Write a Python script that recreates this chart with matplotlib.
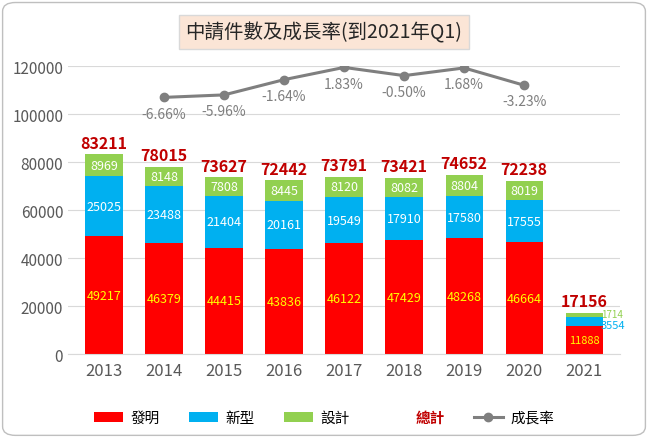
import matplotlib.pyplot as plt
from matplotlib.patches import FancyBboxPatch

plt.rcParams['font.family'] = ['Noto Sans CJK TC', 'DejaVu Sans']

years = ['2013', '2014', '2015', '2016', '2017', '2018', '2019', '2020', '2021']
invention = [49217, 46379, 44415, 43836, 46122, 47429, 48268, 46664, 11888]
utility = [25025, 23488, 21404, 20161, 19549, 17910, 17580, 17555, 3554]
design = [8969, 8148, 7808, 8445, 8120, 8082, 8804, 8019, 1714]
totals = [83211, 78015, 73627, 72442, 73791, 73421, 74652, 72238, 17156]
growth_years = ['2014', '2015', '2016', '2017', '2018', '2019', '2020']
growth = [-6.66, -5.96, -1.64, 1.83, -0.50, 1.68, -3.23]

RED = '#ff0000'
BLUE = '#00b0f0'
GREEN = '#92d050'
DARKRED = '#c00000'
GRAY = '#7f7f7f'

fig = plt.figure(figsize=(6.48, 4.39), dpi=100)
fig.patches.append(FancyBboxPatch((0.004, 0.006), 0.992, 0.986, boxstyle='round,pad=0,rounding_size=0.02',
                                  transform=fig.transFigure, fill=False, ec='#bfbfbf', lw=1))
ax = fig.add_axes([0.105, 0.191, 0.852, 0.656])
x = list(range(len(years)))
w = 0.62
b1 = ax.bar(x, invention, w, color=RED, label='發明', zorder=2)
bottom2 = invention
b2 = ax.bar(x, utility, w, bottom=bottom2, color=BLUE, label='新型', zorder=2)
bottom3 = [a + b for a, b in zip(invention, utility)]
b3 = ax.bar(x, design, w, bottom=bottom3, color=GREEN, label='設計', zorder=2)

for i in x:
    if i < len(x) - 1:
        ax.text(i, invention[i] / 2, str(invention[i]), ha='center', va='center', color='yellow', fontsize=9)
        ax.text(i, bottom2[i] + utility[i] / 2, str(utility[i]), ha='center', va='center', color='white', fontsize=9)
        ax.text(i, bottom3[i] + design[i] / 2, str(design[i]), ha='center', va='center', color='white', fontsize=9)
    else:
        ax.text(i, invention[i] / 2, str(invention[i]), ha='center', va='center', color='yellow', fontsize=8)
        ax.text(i + 0.28, bottom2[i] + utility[i] / 2 - 1500, str(utility[i]), ha='left', va='center', color=BLUE, fontsize=8)
        ax.text(i + 0.28, bottom3[i] + design[i] / 2 + 500, str(design[i]), ha='left', va='center', color=GREEN, fontsize=7)
    ax.text(i, totals[i] + 1500, str(totals[i]), ha='center', va='bottom', color=DARKRED, fontsize=11.5, fontweight='bold')

ax.set_ylim(0, 120000)
ax.set_xlim(-0.6, len(x) - 0.4)
ax.set_yticks(range(0, 120001, 20000))
ax.set_xticks(x)
ax.set_xticklabels(years, fontsize=12, color='#595959')
ax.tick_params(axis='y', labelsize=11, colors='#595959', length=0)
ax.tick_params(axis='x', length=0, pad=6)
ax.grid(axis='y', color='#d9d9d9', lw=0.8, zorder=0)
for s in ['top', 'right', 'left']:
    ax.spines[s].set_visible(False)
ax.spines['bottom'].set_color('#d9d9d9')

ax2 = ax.twinx()
gx = [years.index(g) for g in growth_years]
line, = ax2.plot(gx, growth, color=GRAY, marker='o', ms=6, lw=2.2, label='成長率')
ax2.set_ylim(-79.4, 2.18)
ax2.axis('off')
for xi, g in zip(gx, growth):
    ax2.text(xi, g - 2.6, f'{g:.2f}%', ha='center', va='top', color=GRAY, fontsize=10)

total_handle = plt.Line2D([], [], color='none')
handles = [b1, b2, b3, total_handle, line]
labels = ['發明', '新型', '設計', '總計', '成長率']
leg = fig.legend(handles, labels, loc='lower center', bbox_to_anchor=(0.5, 0.0), ncol=5, frameon=False,
                 fontsize=10.5, handlelength=2.0, handletextpad=0.5, columnspacing=2.0)
for t in leg.get_texts():
    if t.get_text() == '總計':
        t.set_color(DARKRED)
        t.set_fontweight('bold')

fig.text(0.5, 0.925, '中請件數及成長率(到2021年Q1)', ha='center', va='center', fontsize=14, color='#262626',
         bbox=dict(boxstyle='square,pad=0.35', fc='#fbe5d6', ec='#d9d9d9'))

fig.savefig('out.png', dpi=100)
